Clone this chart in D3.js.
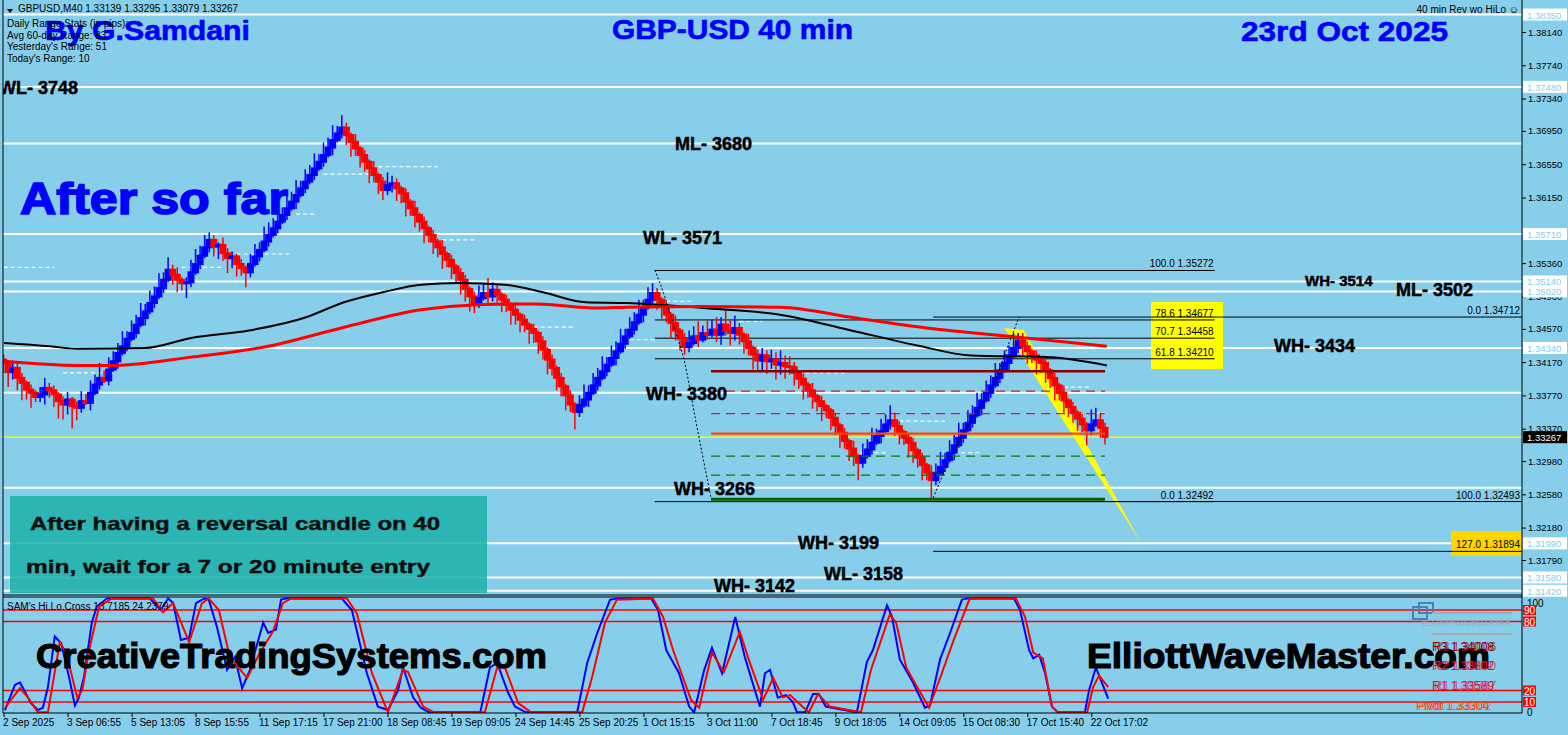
<!DOCTYPE html>
<html>
<meta charset="UTF-8">
<style>
body { margin: 0; background: #87ceeb; overflow: hidden; }
svg { display: block; font-family: "Liberation Sans", Arial, sans-serif; }
.axis text { font-size: 9.5px; fill: #000; }
.axis line { stroke: #000; }
.lvl { font-weight: bold; font-size: 18px; fill: #000; stroke: #000; stroke-width: 0.5px; }
.title { font-weight: bold; fill: #0000ff; stroke: #0000ff; }
.fib { font-size: 10px; fill: #000; }
.small { font-size: 10px; fill: #000; }
</style>
<svg width="1568" height="735"></svg>
<script src="https://d3js.org/d3.v7.min.js"></script>
<script>
//	closes per bar, in pips (13416 = 1.3416)
var closes = [
	13416, 13405, 13410, 13398, 13392, 13384, 13380, 13375,
	13378, 13386, 13383,
	13378, 13370, 13366, 13372, 13364, 13362,
	13370, 13368, 13380, 13390, 13398, 13395, 13408, 13418, 13428, 13436, 13445, 13452, 13462, 13470, 13478, 13488, 13496, 13506, 13516, 13528,
	13522, 13516, 13512, 13513,
	13525, 13535, 13545, 13555, 13564,
	13556, 13558, 13548, 13542, 13544, 13535, 13530, 13525,
	13535, 13544, 13552, 13562,
	13570, 13578, 13586, 13594, 13602, 13610, 13618, 13626, 13634, 13642, 13650, 13658, 13666, 13675, 13684, 13692, 13699,
	13690, 13682, 13674, 13666, 13658, 13650, 13642, 13634, 13624,
	13630, 13632,
	13626, 13620, 13610, 13602, 13594, 13586, 13578, 13570, 13562, 13555, 13547, 13540, 13532, 13524, 13516,
	13505, 13496, 13488,
	13494, 13500, 13496, 13504,
	13498, 13492, 13486, 13480, 13474, 13468, 13462, 13457, 13452,
	13442, 13432, 13420, 13410, 13398, 13388, 13377, 13366, 13357,
	13365, 13372, 13380, 13389, 13398, 13406, 13414, 13422, 13430, 13439, 13448, 13456, 13465, 13474, 13483, 13492, 13500,
	13492, 13484, 13474, 13464, 13455, 13446, 13435,
	13440, 13448, 13444, 13452, 13450, 13456,
	13450, 13462, 13455, 13452, 13458,
	13450, 13442, 13434, 13426, 13419,
	13425, 13418, 13420, 13414, 13416, 13412, 13411,
	13404, 13397, 13390, 13383, 13376, 13370, 13364, 13359,
	13350, 13341, 13332, 13322, 13313, 13304, 13296,
	13304, 13312, 13320, 13328, 13334, 13342, 13347,
	13340, 13333, 13326, 13320,
	13311, 13302, 13293, 13284, 13275,
	13283, 13291, 13299, 13308, 13317, 13326, 13335, 13344, 13353, 13362, 13371, 13380, 13389, 13398, 13407, 13416, 13425, 13434, 13443,
	13436, 13430, 13425, 13420, 13416,
	13407, 13398, 13389, 13380, 13371, 13363,
	13356, 13349, 13342, 13335,
	13342, 13347,
	13338, 13327
];
var firstOpen = 13420;

//	wick lengths per bar, one digit each, in units of 3 pips
var wickUp = ["21322121", "342", "212312", "43546354463546354635", "2312", "56453", "21322121", "4536",
	"54635463546354635", "213121312", "53", "212131212131212", "212", "5463", "212131212", "121212121",
	"46354635463546354", "2121312", "546354", "53645", "21312", "3243534", "21213121", "1212131", "5463546",
	"3212", "21213", "4635463546354635463", "32121", "212131", "2121", "65", "32"].join("");
var wickDn = ["46357462", "243", "576495", "21312121312121312121", "4536", "21212", "45364536", "2121",
	"21212131212121312", "463546354", "23", "546354635463546", "564", "2132", "453645364", "546354637",
	"21312121312121312", "4536453", "213121", "34253", "45364", "4536453", "54635463", "5463547", "2121312",
	"4536", "54637", "2121312121312121312", "45364", "546354", "4536", "21", "43"].join("");

//	moving averages [bar, pips]
var maBlack = [[0.1, 13440], [10.2, 13436], [16.1, 13433], [30.9, 13434], [41, 13446], [53.7, 13455], [66.2, 13471],
	[74.5, 13489], [83, 13501], [91.3, 13510], [99.7, 13512], [109.7, 13510], [118, 13501], [127.4, 13489],
	[136.4, 13488], [153, 13482], [169.9, 13474], [184.8, 13456], [199.9, 13437], [211.7, 13425], [228.3, 13423], [241.4, 13413]];
var maRed = [[0.1, 13418], [16.1, 13413], [24.4, 13413], [41, 13423], [57.9, 13436], [74.5, 13459], [91.3, 13480],
	[103.8, 13486], [116.5, 13487], [129.9, 13482], [136.4, 13483], [153, 13484], [169.9, 13483], [186.5, 13470],
	[203.4, 13457], [220, 13448], [241.4, 13436]];

//	horizontal levels
var levelPrices = [1.3835, 1.3748, 1.3680, 1.3571, 1.3514, 1.3502, 1.3434, 1.3380, 1.3266, 1.3199, 1.3158, 1.3142];
var boxedLevels = [1.38350, 1.37480, 1.35710, 1.35140, 1.35020, 1.34340, 1.31990, 1.31580, 1.31420];
var levelLabels = [["WL- 3748", 1.3748], ["ML- 3680", 1.3680], ["WL- 3571", 1.3571], ["WH- 3514", 1.3514],
	["ML- 3502", 1.3502], ["WH- 3434", 1.3434], ["WH- 3380", 1.3380], ["WH- 3266", 1.3266],
	["WH- 3199", 1.3199], ["WL- 3158", 1.3158], ["WH- 3142", 1.3142]];
var lastPrice = 1.33267;

//	axis ticks
var priceTicks = [1.38140, 1.37740, 1.37340, 1.36950, 1.36550, 1.36150, 1.35360, 1.34960, 1.34570, 1.34170,
	1.33770, 1.33370, 1.32980, 1.32580, 1.32180, 1.31790];
var timeTicks = [0, 14, 28, 42, 56, 70, 84, 98, 112, 126, 140, 154, 168, 182, 196, 210, 224, 238];
var timeLabels = ["2 Sep 2025", "3 Sep 06:55", "5 Sep 13:05", "8 Sep 15:55", "11 Sep 17:15", "17 Sep 21:00",
	"18 Sep 08:45", "19 Sep 09:05", "24 Sep 14:45", "25 Sep 20:25", "1 Oct 15:15", "3 Oct 11:00", "7 Oct 18:45",
	"9 Oct 18:05", "14 Oct 09:05", "15 Oct 08:30", "17 Oct 15:40", "22 Oct 17:02"];

//	fibonacci sets [level, price]
var fibUpper = [[100.0, 1.35272], [78.6, 1.34677], [70.7, 1.34458], [61.8, 1.34210], [0.0, 1.32492]];
var fibUpperSpan = [142.5, 265];
var fibLower = [[0.0, 1.34712], [100.0, 1.32493], [127.0, 1.31894]];
var fibLowerSpan = [203.4];

//	daily pivot lines
var pivotPrices = [1.34060, 1.33820, 1.33550, 1.33310, 1.33040, 1.32810, 1.32520];
var pivotSpan = [154.8, 241];
var pivotNames = [["R3", 1.34008], ["R2", 1.33802], ["R1", 1.33589], ["Pivot", 1.33304]];

//	zigzag legs [bar, price]
var zigzag1 = [[142.5, 1.35278], [144.7, 1.34953], [147.1, 1.34520], [148.9, 1.34195], [151.3, 1.33510], [153, 1.33029], [154.8, 1.32536]];
var zigzag2 = [[203.4, 1.32536], [206.7, 1.32957], [211.7, 1.33474], [216.7, 1.33919], [220, 1.34400], [222.2, 1.34712]];

//	projection wedge [bar, price]
var wedge = [[219.0, 1.34580], [223.2, 1.34556], [248.9, 1.31994]];

//	fractal marks [from bar, to bar, price]
var fractals = [[0, 11, 1.3531], [13, 24, 1.3404], [39, 48, 1.3531], [51, 63, 1.3547], [64, 68, 1.3595],
	[70, 80, 1.3643], [82, 95, 1.3652], [96, 103, 1.3564], [116, 125, 1.3459], [137, 143, 1.3444],
	[145, 151, 1.3490], [161, 166, 1.3466], [174, 184, 1.3404], [186, 193, 1.3308], [196, 206, 1.3346],
	[208, 214, 1.3308], [216, 219, 1.3380], [225, 229, 1.3424], [232, 238, 1.3387], [239, 241, 1.3356]];

//	SAM's Hi.Lo.Cross [bar, value]
var hiloBlue = [[0.3, 3], [2.5, 25], [3.6, 27], [6, 9], [7.5, 3], [8.6, 5], [9.7, 23], [11.2, 67], [12.6, 61], [14.3, 32],
	[15.6, 7], [16.5, 14], [17.6, 32], [19.3, 79], [20.4, 93], [22.6, 100], [32, 100], [34.4, 90], [36, 100], [37.1, 96],
	[38.8, 64], [40.6, 66], [42.1, 96], [43.9, 100], [44.9, 99], [46.7, 75], [48.9, 38], [50.6, 49], [52.2, 22], [53.9, 38],
	[56.8, 79], [57.9, 70], [59.6, 73], [60.7, 99], [61.8, 100], [74, 100], [76.2, 90], [79.5, 35], [81.9, 6], [84.1, 3],
	[86.3, 20], [87.4, 40], [89.6, 14], [91.3, 5], [93.1, 1], [104.3, 1], [106.4, 40], [108, 44], [110.4, 18], [111.9, 6],
	[114.3, 1], [125.5, 1], [127.7, 44], [129.9, 70], [132.7, 99], [134.2, 100], [141.7, 100], [143.2, 90], [145, 55],
	[147.8, 35], [150, 6], [151.1, 1], [153.3, 38], [155, 57], [157.2, 35], [160.1, 84], [162.2, 49], [164.4, 20],
	[165.5, 6], [166.6, 35], [167.7, 38], [169.4, 14], [171.2, 16], [172.7, 10], [173.6, 1], [175.4, 1], [177.1, 17],
	[178.4, 17], [179.9, 6], [186.7, 1], [188.9, 45], [190.2, 55], [193.3, 94], [194.4, 84], [196.1, 47], [199, 27],
	[201.6, 5], [202.7, 7], [204.9, 47], [207.1, 70], [209.7, 99], [210.8, 100], [221.1, 100], [222.4, 90], [224.4, 55],
	[225.3, 48], [226.6, 51], [227.9, 35], [229.4, 6], [230.7, 1], [236.6, 1], [237.5, 20], [239, 40], [241.7, 13]];
var hiloRed = [[0.3, 5], [3.6, 22], [5.3, 14], [7.5, 1], [9.7, 1], [12.3, 62], [13.7, 53], [16.1, 14], [17.2, 20],
	[18.7, 55], [20.9, 93], [23.7, 100], [32.7, 100], [34.9, 88], [37.1, 96], [40.6, 62], [43.4, 96], [44.9, 100],
	[47.1, 90], [49.5, 49], [53.3, 31], [56.1, 53], [58.9, 71], [61.1, 96], [62.9, 100], [75.1, 100], [77.3, 87],
	[80.6, 35], [84.1, 1], [87.4, 38], [88.5, 36], [91.8, 6], [94.2, 1], [105.3, 1], [108, 40], [109.7, 40], [112.6, 9],
	[115.4, 1], [126.6, 1], [128.8, 32], [131.6, 79], [134.2, 99], [142.1, 100], [144.3, 84], [146.5, 55], [150.4, 12],
	[152.2, 5], [155, 53], [157.6, 36], [161.1, 71], [163.3, 44], [166.2, 12], [168.4, 31], [170.5, 14], [172.1, 16],
	[174, 9], [176.2, 1], [178.2, 17], [180.8, 6], [187.6, 1], [189.8, 38], [193.9, 86], [195.3, 79], [197.5, 40],
	[199.9, 23], [202.5, 5], [205.3, 35], [207.9, 64], [211.3, 99], [212.1, 100], [221.5, 100], [223.5, 84], [225.3, 53],
	[227.4, 48], [229.4, 6], [230.7, 1], [237.1, 1], [238.4, 23], [239.7, 33], [241.7, 23]];
var hiloLevels = [90, 80, 20, 10];

//	layout
var plotL = 3, plotR = 1522, mainB = 595, indT = 597, indB = 713;
var labelPos = { "WL- 3748": [-1, 7], "ML- 3680": [675, 7], "WL- 3571": [643, 10], "WH- 3514": [1305, 5],
	"ML- 3502": [1396, 5], "WH- 3434": [1274, 4], "WH- 3380": [646, 7], "WH- 3266": [674, 7],
	"WH- 3199": [798, 6], "WL- 3158": [824, 3], "WH- 3142": [714, 1] };

var svg = d3.select("svg");
var x = d3.scaleLinear().domain([0, 241]).range([3.6, 1105]);
var y = d3.scaleLinear().domain([1.38140, 1.31790]).range([32, 560]);
var yi = d3.scaleLinear().domain([100, 0]).range([598.5, 713.5]);
var pip = function(v) { return v / 10000; };

svg.append("rect").attr("width", 1568).attr("height", 735).attr("fill", "#87ceeb");

var defs = svg.append("defs");
defs.append("clipPath").attr("id", "clipMain").append("rect")
	.attr("x", plotL).attr("y", 0).attr("width", plotR - plotL).attr("height", mainB);
defs.append("clipPath").attr("id", "clipInd").append("rect")
	.attr("x", plotL).attr("y", indT).attr("width", plotR - plotL).attr("height", indB - indT);

var g = svg.append("g").attr("clip-path", "url(#clipMain)");

//	white levels
g.selectAll(".level").data(levelPrices).enter().append("line")
	.attr("x1", 0).attr("x2", plotR)
	.attr("y1", function(d) { return y(d); }).attr("y2", function(d) { return y(d); })
	.attr("stroke", "#fff").attr("stroke-width", 2);

//	fractal dashes
g.selectAll(".frac").data(fractals).enter().append("line")
	.attr("x1", function(d) { return x(d[0]); }).attr("x2", function(d) { return x(d[1]); })
	.attr("y1", function(d) { return y(d[2]); }).attr("y2", function(d) { return y(d[2]); })
	.attr("stroke", "#fff").attr("stroke-width", 1.2).attr("stroke-dasharray", "4,3");

//	current price line
g.append("line").attr("x1", plotL).attr("x2", plotR).attr("y1", y(lastPrice)).attr("y2", y(lastPrice))
	.attr("stroke", "#ffff00").attr("stroke-width", 1.2);

//	wedge
g.append("path")
	.attr("d", d3.line().x(function(d) { return x(d[0]); }).y(function(d) { return y(d[1]); })(wedge) + "Z")
	.attr("fill", "#ffff00");

//	fib boxes
var fibEnd = x(fibUpperSpan[1]);
g.append("rect").attr("x", 1151).attr("y", y(1.34893)).attr("width", 72).attr("height", y(1.34087) - y(1.34893))
	.attr("fill", "#ffff00");
g.append("rect").attr("x", 1451).attr("y", y(1.32139)).attr("width", 71).attr("height", y(1.31838) - y(1.32139))
	.attr("fill", "#ffd700");

fibUpper.forEach(function(f) {
	var yy = y(f[1]);
	g.append("line").attr("x1", x(fibUpperSpan[0])).attr("x2", fibEnd).attr("y1", yy).attr("y2", yy)
		.attr("stroke", "#000").attr("stroke-width", 1);
	g.append("text").attr("class", "fib").attr("x", fibEnd - 1).attr("y", yy - 3).attr("text-anchor", "end")
		.text(f[0].toFixed(1) + "  " + f[1].toFixed(5));
});
fibLower.forEach(function(f) {
	var yy = y(f[1]);
	g.append("line").attr("x1", x(fibLowerSpan[0])).attr("x2", plotR).attr("y1", yy).attr("y2", yy)
		.attr("stroke", "#000").attr("stroke-width", 1);
	g.append("text").attr("class", "fib").attr("x", plotR - 2).attr("y", yy - 3).attr("text-anchor", "end")
		.text(f[0].toFixed(1) + "  " + f[1].toFixed(5));
});

//	candles
var bars = closes.map(function(c, i) {
	var o = i ? closes[i - 1] : firstOpen;
	var top = Math.max(o, c), bot = Math.min(o, c);
	return { i: i, o: o, c: c,
		hi: top + 3 * (+wickUp.charAt(i) || 0),
		lo: bot - 3 * (+wickDn.charAt(i) || 0),
		top: top, bot: bot };
});
var col = function(d) { return d.c > d.o ? "#0000ff" : "#ff0000"; };

g.selectAll(".wick").data(bars).enter().append("line")
	.attr("x1", function(d) { return x(d.i); }).attr("x2", function(d) { return x(d.i); })
	.attr("y1", function(d) { return y(pip(d.hi)); }).attr("y2", function(d) { return y(pip(d.lo)); })
	.attr("stroke", col).attr("stroke-width", 1.5);
g.selectAll(".body").data(bars).enter().append("rect")
	.attr("x", function(d) { return x(d.i) - 3.5; }).attr("width", 7)
	.attr("y", function(d) { return y(pip(d.top)) - 1; })
	.attr("height", function(d) { return Math.max(3, y(pip(d.bot)) - y(pip(d.top)) + 2); })
	.attr("fill", col);

//	moving averages
var maLine = d3.line().curve(d3.curveMonotoneX)
	.x(function(d) { return x(d[0]); }).y(function(d) { return y(pip(d[1])); });
g.append("path").attr("d", maLine(maBlack)).attr("fill", "none").attr("stroke", "#000").attr("stroke-width", 2);
g.append("path").attr("d", maLine(maRed)).attr("fill", "none").attr("stroke", "#ff0000").attr("stroke-width", 3);

//	pivot lines
var pivotStyle = [["#8b0000", 2.5, null], ["#dc143c", 1.3, "9,6"], ["#dc143c", 1.3, "9,6"], ["#ff4500", 2.2, null],
	["#008000", 1.3, "9,6"], ["#008000", 1.3, "9,6"], ["#006400", 3, null]];
pivotPrices.forEach(function(p, k) {
	g.append("line").attr("x1", x(pivotSpan[0])).attr("x2", x(pivotSpan[1])).attr("y1", y(p)).attr("y2", y(p))
		.attr("stroke", pivotStyle[k][0]).attr("stroke-width", pivotStyle[k][1])
		.attr("stroke-dasharray", pivotStyle[k][2]);
});

//	zigzag
var zz = d3.line().curve(d3.curveMonotoneX).x(function(d) { return x(d[0]); }).y(function(d) { return y(d[1]); });
[zigzag1, zigzag2].forEach(function(z) {
	g.append("path").attr("d", zz(z)).attr("fill", "none").attr("stroke", "#000")
		.attr("stroke-width", 1).attr("stroke-dasharray", "2,2");
});

//	level labels
g.selectAll(".lvl").data(levelLabels).enter().append("text")
	.attr("class", "lvl")
	.attr("x", function(d) { return labelPos[d[0]][0]; })
	.attr("y", function(d) { return y(d[1]) + labelPos[d[0]][1]; })
	.style("font-size", function(d) { return d[0] === "WH- 3514" ? "15px" : "18px"; })
	.text(function(d) { return d[0]; });

//	info box
g.append("rect").attr("x", 10).attr("y", 496).attr("width", 477).attr("height", 97)
	.attr("fill", "#20b2aa").attr("fill-opacity", 0.88);
g.append("text").attr("x", 30).attr("y", 530).attr("font-weight", "bold").attr("font-size", 19)
	.attr("textLength", 410).attr("lengthAdjust", "spacingAndGlyphs").attr("fill", "#0d0d0d")
	.attr("stroke", "#0d0d0d").attr("stroke-width", 0.4)
	.text("After having a reversal candle on 40");
g.append("text").attr("x", 26).attr("y", 573).attr("font-weight", "bold").attr("font-size", 19)
	.attr("textLength", 404).attr("lengthAdjust", "spacingAndGlyphs").attr("fill", "#0d0d0d")
	.attr("stroke", "#0d0d0d").attr("stroke-width", 0.4)
	.text("min, wait for a 7 or 20 minute entry");

//	titles
function title(t, x0, yb, size, len, sw) {
	svg.append("text").attr("class", "title").attr("x", x0).attr("y", yb).attr("font-size", size)
		.attr("stroke-width", sw)
		.attr("textLength", len).attr("lengthAdjust", "spacingAndGlyphs").text(t);
}
title("By G.Samdani", 45, 40, 28, 205, 0.6);
title("GBP-USD 40 min", 612, 39, 27, 241, 0.6);
title("23rd Oct 2025", 1241, 41, 28, 207, 0.6);
title("After so far", 20, 214, 45, 268, 1.6);

//	header texts
svg.append("path").attr("d", "M7,9 L13,9 L10,13 Z").attr("fill", "#000");
svg.append("text").attr("class", "small").attr("x", 18).attr("y", 12).text("GBPUSD,M40  1.33139 1.33295 1.33079 1.33267");
["Daily Range Stats (in pips):", "Avg 60-day Range: 83", "Yesterday's Range: 51", "Today's Range: 10"]
	.forEach(function(t, k) {
		svg.append("text").attr("class", "small").attr("x", 7).attr("y", [27, 39, 50, 62][k]).text(t);
	});
svg.append("text").attr("class", "small").attr("x", 1519).attr("y", 13).attr("text-anchor", "end")
	.text("40 min Rev wo HiLo \u263A");

//	right price axis
var yAxis = d3.axisRight(y).tickValues(priceTicks).tickFormat(d3.format(".5f")).tickSize(4).tickPadding(2);
svg.append("g").attr("class", "axis").attr("transform", "translate(" + plotR + ",0)").call(yAxis)
	.call(function(a) { a.select(".domain").remove(); });

boxedLevels.forEach(function(p) {
	svg.append("rect").attr("x", plotR + 1).attr("y", y(p) - 6).attr("width", 44).attr("height", 12).attr("fill", "#fff");
	svg.append("text").attr("x", plotR + 5).attr("y", y(p) + 4).attr("font-size", 9.5).attr("fill", "#87ceeb")
		.text(p.toFixed(5));
});
svg.append("rect").attr("x", plotR + 1).attr("y", y(lastPrice) - 6).attr("width", 44).attr("height", 12).attr("fill", "#000");
svg.append("text").attr("x", plotR + 5).attr("y", y(lastPrice) + 4).attr("font-size", 9.5).attr("fill", "#fff")
	.text(lastPrice.toFixed(5));

//	indicator panel
var gi = svg.append("g").attr("clip-path", "url(#clipInd)");
gi.selectAll(".hl").data(hiloLevels).enter().append("line")
	.attr("x1", plotL).attr("x2", plotR)
	.attr("y1", function(d) { return yi(d); }).attr("y2", function(d) { return yi(d); })
	.attr("stroke", "#ff0000").attr("stroke-width", 1.5);
var hl = d3.line().x(function(d) { return x(d[0]); }).y(function(d) { return yi(d[1]); });
gi.append("path").attr("d", hl(hiloBlue)).attr("fill", "none").attr("stroke", "#0000ff").attr("stroke-width", 2);
gi.append("path").attr("d", hl(hiloRed)).attr("fill", "none").attr("stroke", "#ff0000").attr("stroke-width", 2);

svg.append("text").attr("class", "small").attr("x", 7).attr("y", 610).text("SAM's Hi.Lo.Cross 13.7185 24.2379");

//	website marks
svg.append("text").attr("x", 36).attr("y", 668).attr("font-weight", "bold").attr("font-size", 35)
	.attr("textLength", 511).attr("lengthAdjust", "spacingAndGlyphs").attr("fill", "#000")
	.attr("stroke", "#000").attr("stroke-width", 1.2)
	.text("CreativeTradingSystems.com");
svg.append("text").attr("x", 1087).attr("y", 668).attr("font-weight", "bold").attr("font-size", 35)
	.attr("textLength", 403).attr("lengthAdjust", "spacingAndGlyphs").attr("fill", "#000")
	.attr("stroke", "#000").attr("stroke-width", 1.2)
	.text("ElliottWaveMaster.com");

//	pivot panel labels
svg.append("rect").attr("x", 1413).attr("y", 607).attr("width", 14).attr("height", 12)
	.attr("fill", "none").attr("stroke", "#4682b4").attr("stroke-width", 2);
svg.append("rect").attr("x", 1419).attr("y", 603).attr("width", 14).attr("height", 10)
	.attr("fill", "none").attr("stroke", "#4682b4").attr("stroke-width", 2);
svg.append("line").attr("x1", 1432).attr("x2", 1512).attr("y1", 613).attr("y2", 613).attr("stroke", "#aaa").attr("stroke-width", 2);
svg.append("line").attr("x1", 1432).attr("x2", 1512).attr("y1", 634).attr("y2", 634).attr("stroke", "#aaa").attr("stroke-width", 2);
svg.append("text").attr("x", 1422).attr("y", 626).attr("font-size", 8).attr("fill", "#9aa9b8").text("ELLIOTTWAVEMASTER");
var pivCol = ["#8b0000", "#dc143c", "#dc143c", "#ff4500"];
var pivY = [651, 670, 690, 710];
pivotNames.forEach(function(p, k) {
	var xs = k === 3 ? 1416 : 1432;
	svg.append("text").attr("x", xs).attr("y", pivY[k]).attr("font-size", 12).attr("fill", pivCol[k])
		.text(p[0] + " " + p[1].toFixed(5));
	svg.append("text").attr("x", xs + 2).attr("y", pivY[k]).attr("font-size", 12).attr("fill", pivCol[k])
		.attr("fill-opacity", 0.7).text(p[0] + " " + (p[1] - 0.00002).toFixed(5));
});

//	indicator right scale
svg.append("text").attr("class", "small").attr("x", plotR + 5).attr("y", 607).text("100");
svg.append("text").attr("class", "small").attr("x", plotR + 5).attr("y", 716).text("0");
hiloLevels.forEach(function(v) {
	svg.append("rect").attr("x", plotR + 1).attr("y", yi(v) - 5).attr("width", 13).attr("height", 10).attr("fill", "#ff0000");
	svg.append("text").attr("x", plotR + 2).attr("y", yi(v) + 4).attr("font-size", 10).attr("fill", "#fff").text(v);
});

//	frame
svg.append("line").attr("x1", plotL).attr("x2", plotL).attr("y1", 0).attr("y2", indB).attr("stroke", "#000");
svg.append("line").attr("x1", plotR).attr("x2", plotR).attr("y1", 0).attr("y2", indB).attr("stroke", "#000");
svg.append("line").attr("x1", plotL).attr("x2", plotR).attr("y1", mainB).attr("y2", mainB).attr("stroke", "#000");
svg.append("line").attr("x1", plotL).attr("x2", plotR).attr("y1", indT).attr("y2", indT).attr("stroke", "#000");
svg.append("line").attr("x1", plotL).attr("x2", plotR).attr("y1", indB).attr("y2", indB).attr("stroke", "#000");

//	time axis
var xAxis = d3.axisBottom(x).tickValues(timeTicks)
	.tickFormat(function(d, i) { return timeLabels[i]; }).tickSize(4).tickPadding(2);
svg.append("g").attr("class", "axis").attr("transform", "translate(0," + indB + ")").call(xAxis)
	.call(function(a) {
		a.select(".domain").remove();
		a.selectAll("text").attr("text-anchor", "start").attr("dx", -1).style("font-size", "10px");
	});
</script>
</html>
